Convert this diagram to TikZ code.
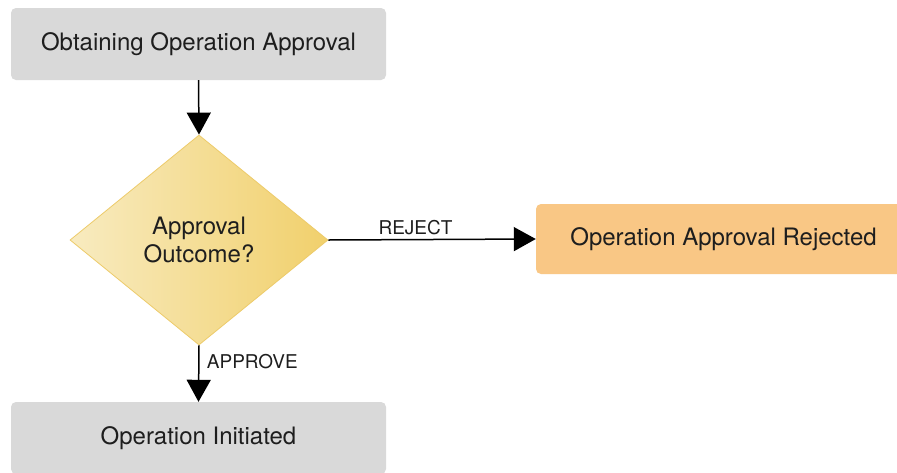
\documentclass[tikz,border=0pt]{standalone}
\usepackage{fontspec}
\setmainfont{TeX Gyre Heros}
\usetikzlibrary{shapes.geometric,arrows.meta}
\definecolor{boxgray}{HTML}{D9D9D9}
\definecolor{boxorange}{HTML}{F9C785}
\definecolor{dialight}{HTML}{F8EBC0}
\definecolor{diadark}{HTML}{F1D06C}
\definecolor{diaborder}{HTML}{EDCB6A}
\definecolor{txt}{HTML}{1E1E1E}
\tikzset{
  stepbox/.style={rectangle, rounded corners=5pt, draw=none, minimum width=375pt, minimum height=72pt, inner sep=0pt, font=\fontsize{24}{27}\selectfont, text=txt},
  decision/.style={diamond, draw=diaborder, line width=0.8pt, left color=dialight, right color=diadark, minimum width=258pt, minimum height=210pt, inner sep=0pt, aspect=1.23, align=center, font=\fontsize{24}{28}\selectfont, text=txt},
  conn/.style={line width=1.5pt, black, -{Triangle[length=22pt,width=24pt]}},
  lbl/.style={font=\fontsize{19}{21}\selectfont, text=txt}
}
\begin{document}
\begin{tikzpicture}[x=1pt,y=-1pt]
\clip (0,0) rectangle (897,472);
\fill[white] (0,0) rectangle (897,472);
\node[stepbox, fill=boxgray] (obtain) at (198.5,44) {Obtaining Operation Approval};
\node[decision] (outcome) at (199,240) {Approval\\Outcome?};
\node[stepbox, fill=boxorange, minimum height=70pt] (rejected) at (723.5,239) {Operation Approval Rejected};
\node[stepbox, fill=boxgray] (initiated) at (198.5,438) {Operation Initiated};
\draw[conn] (obtain.south) -- (outcome.north);
\draw[conn] (outcome.east) -- node[lbl, above=1pt, pos=0.42] {REJECT} (rejected.west);
\draw[conn] (outcome.south) -- node[lbl, right=4pt, pos=0.28] {APPROVE} (initiated.north);
\end{tikzpicture}
\end{document}
